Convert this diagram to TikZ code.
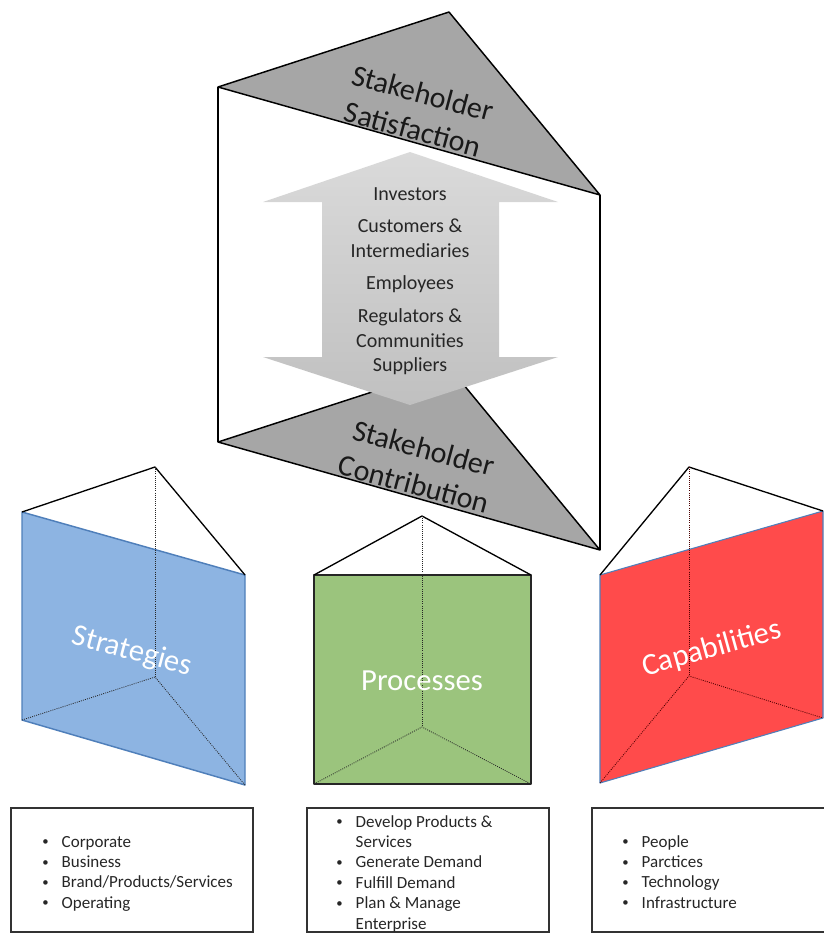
\documentclass[tikz,border=0pt]{standalone}
\usepackage{fontspec}
\setmainfont{Carlito}
\definecolor{triGray}{HTML}{A6A6A6}
\definecolor{arrTop}{HTML}{DADADA}
\definecolor{arrBot}{HTML}{C0C0C0}
\definecolor{blueFace}{HTML}{8DB4E2}
\definecolor{blueEdge}{HTML}{4F7FBA}
\definecolor{greenFace}{HTML}{9BC47D}
\definecolor{redFace}{HTML}{FF4B4B}
\definecolor{txtDark}{HTML}{262626}
\newcommand{\smbul}{\raisebox{0.08em}{\scalebox{0.75}{\textbullet}}}
\begin{document}
\begin{tikzpicture}[x=0.75pt,y=-0.75pt,
  edge/.style={line width=1.1pt, line join=round, draw=black},
  thinedge/.style={line width=1pt, line join=round, draw=black},
  hidden/.style={line width=0.6pt, dash pattern=on 0.7pt off 0.9pt, draw=black!85},
  bigtxt/.style={font=\fontsize{22.5pt}{28pt}\selectfont, align=center, text=black!90, inner sep=0pt},
  facetxt/.style={font=\fontsize{23pt}{28pt}\selectfont, text=white, inner sep=0pt},
  arrtxt/.style={font=\fontsize{15pt}{18pt}\selectfont, text=txtDark, anchor=base, inner sep=0pt},
  listtxt/.style={font=\fontsize{12.75pt}{15.3pt}\selectfont, text=txtDark, anchor=base west, inner sep=0pt},
  boxline/.style={line width=1pt, draw=black!80}]
\useasboundingbox (0,0) rectangle (824,933);

% ---------- main prism ----------
\coordinate (TL) at (218,87);
\coordinate (TA) at (449,12);
\coordinate (TR) at (600,195);
\coordinate (BL) at (218,442);
\coordinate (BA) at (449,367);
\coordinate (BR) at (600,550);
\filldraw[edge, fill=triGray] (TL) -- (TA) -- (TR) -- cycle;
\draw[edge] (TL) -- (BL);
\draw[edge] (TR) -- (BR);
\filldraw[edge, fill=triGray] (BL) -- (BA) -- (BR) -- cycle;

% double arrow
\coordinate (AT) at (410,152);
\coordinate (AB) at (410,405);
\shade[top color=arrTop, bottom color=arrBot]
  (AT) -- (558,202) -- (499,202) -- (499,357) -- (558,357) -- (AB)
  -- (263,357) -- (322,357) -- (322,202) -- (263,202) -- cycle;

\node[arrtxt] (s1) at (410,200) {Investors};
\node[arrtxt] (s2) at (410,232) {Customers \&};
\node[arrtxt] (s3) at (410,257) {Intermediaries};
\node[arrtxt] (s4) at (410,289) {Employees};
\node[arrtxt] (s5) at (410,322) {Regulators \&};
\node[arrtxt] (s6) at (410,347) {Communities};
\node[arrtxt] (s7) at (410,371) {Suppliers};

\node[bigtxt, rotate=-15] (sat) at (418,111) {Stakeholder\\Satisfaction};
\node[bigtxt, rotate=-15] (con) at (419,466) {Stakeholder\\Contribution};

% ---------- Strategies prism ----------
\coordinate (sFL) at (22,512);
\coordinate (sFR) at (245,575);
\coordinate (sBR) at (245,785);
\coordinate (sBL) at (22,720);
\coordinate (sT) at (155,467);
\coordinate (sB) at (155,677);
\filldraw[fill=blueFace, draw=blueEdge, line width=1.1pt, line join=round]
  (sFL) -- (sFR) -- (sBR) -- (sBL) -- cycle;
\draw[thinedge] (sFL) -- (sT) -- (sFR);
\draw[hidden] (sT) -- (sB);
\draw[hidden] (sBL) -- (sB) -- (sBR);
\node[facetxt, rotate=-15] (strat) at (132,652) {Strategies};

% ---------- Processes prism ----------
\coordinate (pFL) at (314,575);
\coordinate (pFR) at (531,575);
\coordinate (pBR) at (531,784);
\coordinate (pBL) at (314,784);
\coordinate (pT) at (422,516);
\coordinate (pB) at (422,727);
\filldraw[fill=greenFace, draw=black!85, line width=0.8pt, line join=round]
  (pFL) -- (pFR) -- (pBR) -- (pBL) -- cycle;
\draw[thinedge] (pFL) -- (pT) -- (pFR);
\draw[hidden] (pT) -- (pB);
\draw[hidden] (pBL) -- (pB) -- (pBR);
\node[facetxt] (proc) at (422,681) {Processes};

% ---------- Capabilities prism ----------
\coordinate (cFL) at (600,575);
\coordinate (cFR) at (823,511);
\coordinate (cBR) at (823,718);
\coordinate (cBL) at (600,783);
\coordinate (cT) at (689,467);
\coordinate (cB) at (689,676);
\filldraw[fill=redFace, draw=blueEdge, line width=0.8pt, line join=round]
  (cFL) -- (cFR) -- (cBR) -- (cBL) -- cycle;
\draw[thinedge] (cFL) -- (cT) -- (cFR);
\draw[hidden, draw=black!70!red] (cT) -- (cB);
\draw[hidden, draw=black!70!red] (cBL) -- (cB) -- (cBR);
\node[facetxt, rotate=15.5] (capa) at (712,649) {Capabilities};

% ---------- list boxes ----------
\draw[boxline] (11,808) rectangle (253,932);
\draw[boxline] (307,808) rectangle (549,932);
\draw[boxline] (592,808) rectangle (830,932);

\node[listtxt] (l1) at (42,847) {\begin{tabular}[t]{@{}p{14.6pt}@{}l@{}}
\smbul & Corporate\\
\smbul & Business\\
\smbul & Brand/Products/Services\\
\smbul & Operating
\end{tabular}};
\node[listtxt] (l2) at (336,827) {\begin{tabular}[t]{@{}p{14.6pt}@{}l@{}}
\smbul & Develop Products \&\\
 & Services\\
\smbul & Generate Demand\\
\smbul & Fulfill Demand\\
\smbul & Plan \& Manage\\
 & Enterprise
\end{tabular}};
\node[listtxt] (l3) at (622,847) {\begin{tabular}[t]{@{}p{14.6pt}@{}l@{}}
\smbul & People\\
\smbul & Parctices\\
\smbul & Technology\\
\smbul & Infrastructure
\end{tabular}};
\end{tikzpicture}
\end{document}
